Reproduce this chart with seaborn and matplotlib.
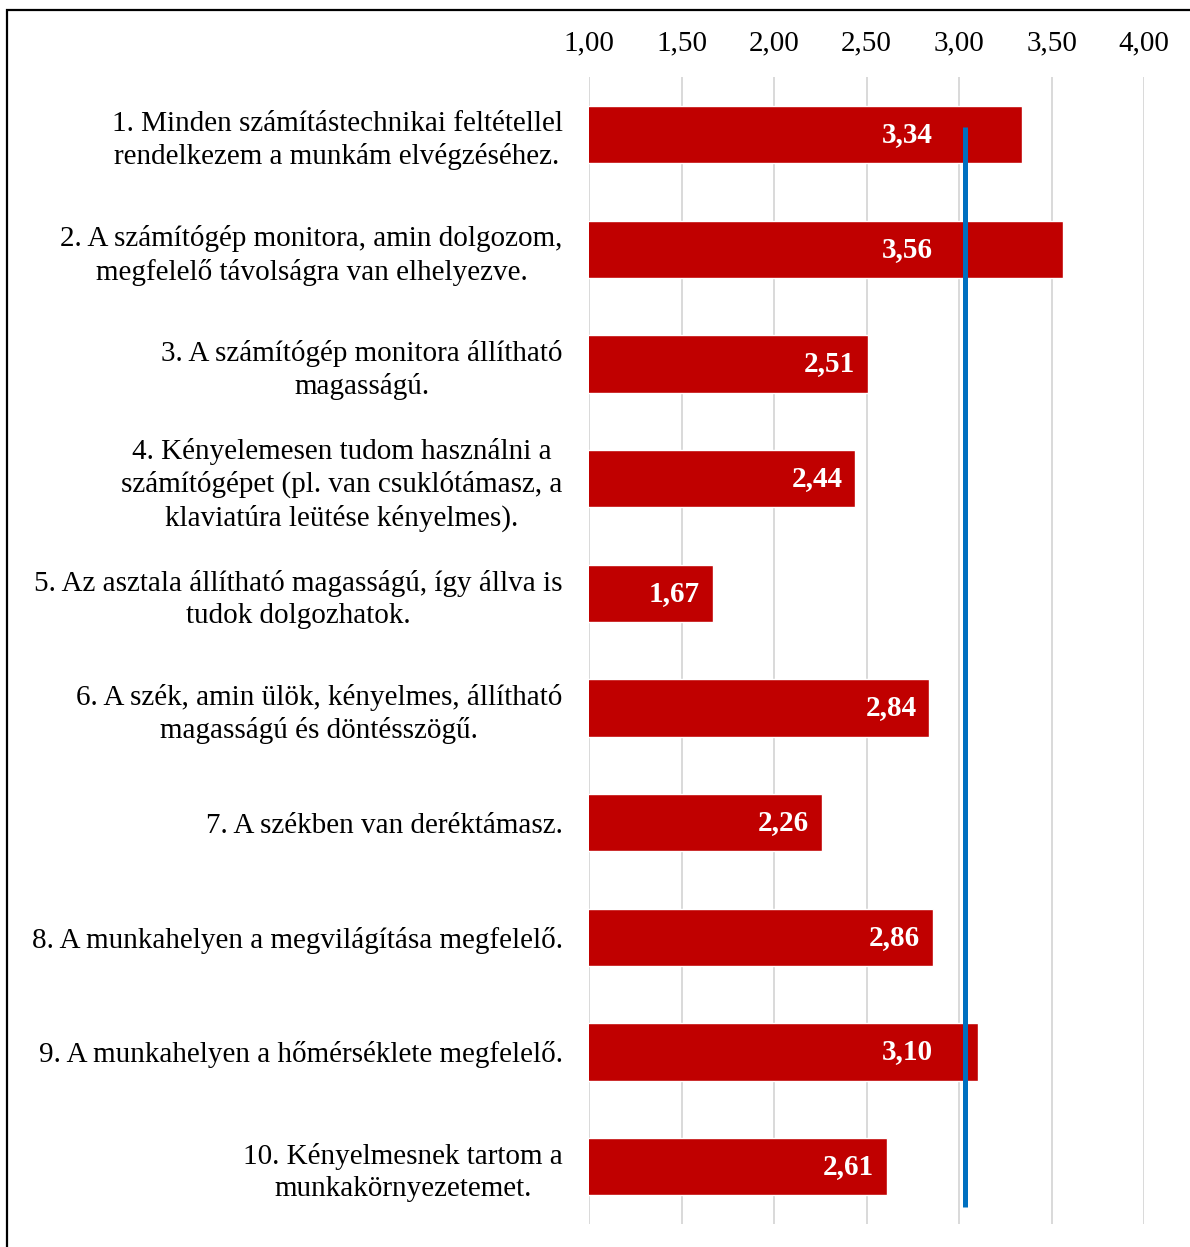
import matplotlib
matplotlib.use("Agg")
import matplotlib.pyplot as plt
from matplotlib.patches import Rectangle
from matplotlib.ticker import FuncFormatter
import seaborn as sns
import pandas as pd

# --- data -------------------------------------------------------------
statements = [
    "1. Minden számítástechnikai feltétellel\nrendelkezem a munkám elvégzéséhez.",
    "2. A számítógép monitora, amin dolgozom,\nmegfelelő távolságra van elhelyezve.",
    "3. A számítógép monitora állítható\nmagasságú.",
    "4. Kényelemesen tudom használni a\nszámítógépet (pl. van csuklótámasz, a\nklaviatúra leütése kényelmes).",
    "5. Az asztala állítható magasságú, így állva is\ntudok dolgozhatok.",
    "6. A szék, amin ülök, kényelmes, állítható\nmagasságú és döntésszögű.",
    "7. A székben van deréktámasz.",
    "8. A munkahelyen a megvilágítása megfelelő.",
    "9. A munkahelyen a hőmérséklete megfelelő.",
    "10. Kényelmesnek tartom a\nmunkakörnyezetemet.",
]
means = [3.34, 3.56, 2.51, 2.44, 1.67, 2.84, 2.26, 2.86, 3.10, 2.61]
x_ticks = [1.00, 1.50, 2.00, 2.50, 3.00, 3.50, 4.00]
reference_value = 3.03
reference_span = [-0.07, 9.35]

BAR_RED = "#C00000"
REF_BLUE = "#0070C0"
GRID_GREY = "#D9D9D9"
FS = 21

df = pd.DataFrame({"statement": statements, "mean": means})

sns.set_theme(style="white")
plt.rcParams["font.family"] = ["Liberation Serif", "DejaVu Serif"]

fig = plt.figure(figsize=(11.9, 12.47), dpi=100)
ax = fig.add_axes([589 / 1190, 1 - 1224 / 1247, (1144 - 589) / 1190, (1224 - 77.3) / 1247])

sns.barplot(data=df, x="mean", y="statement", orient="h", color=BAR_RED,
            saturation=1, width=0.5, ax=ax, zorder=2)

ax.set_xlim(x_ticks[0], x_ticks[-1])
ax.set_ylim(len(statements) - 0.5, -0.5)

# value axis on top, comma decimal separator
ax.xaxis.tick_top()
ax.set_xticks(x_ticks)
ax.xaxis.set_major_formatter(FuncFormatter(lambda v, _: f"{v:.2f}".replace(".", ",")))
ax.tick_params(axis="x", length=0, pad=15, labelsize=FS, colors="black")
ax.tick_params(axis="y", length=0, pad=19, labelsize=FS, colors="black")
for lab in ax.get_yticklabels():
    lab.set_multialignment("center")
    lab.set_linespacing(1.3)

ax.set_xlabel("")
ax.set_ylabel("")
ax.grid(axis="x", color=GRID_GREY, linewidth=1.4, zorder=0)
ax.grid(axis="y", visible=False)
ax.set_axisbelow(True)
for side in ax.spines.values():
    side.set_visible(False)

# reference line
ax.plot([reference_value, reference_value], reference_span, color=REF_BLUE,
        linewidth=3.6, solid_capstyle="butt", zorder=4)

# value labels inside the bar ends, kept clear of the reference line
for i, v in enumerate(means):
    anchor = min(v, reference_value)
    shift = -32 if v > reference_value else -13
    ax.annotate(f"{v:.2f}".replace(".", ","), xy=(anchor, i), xytext=(shift, 0),
                textcoords="offset pixels", ha="right", va="center",
                color="white", fontweight="bold", fontsize=FS, zorder=5)

# outer frame (top and left edges visible)
fig.patches.append(Rectangle((7 / 1190, -0.1), 1.2, 1 - 10 / 1247 + 0.1,
                             transform=fig.transFigure, fill=False,
                             edgecolor="black", linewidth=1.6))

fig.savefig("out.png", dpi=100)
